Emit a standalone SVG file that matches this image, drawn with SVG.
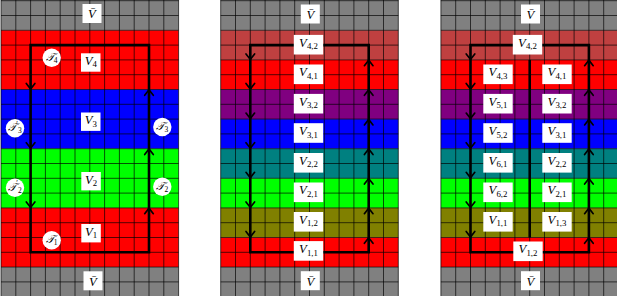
<svg xmlns="http://www.w3.org/2000/svg" width="617" height="296" viewBox="0 0 617 296">
<defs>
<style>
.g{fill:#808080}.r{fill:#ff0000}.b{fill:#0000ff}.gr{fill:#00ff00}.dr{fill:#bf4040}.pu{fill:#800080}.te{fill:#008080}.ol{fill:#808000}
.grid{fill:none;stroke:#000;stroke-width:0.8;stroke-opacity:0.85}
.ln{fill:none;stroke:#000;stroke-width:2.6;stroke-linejoin:miter}
.ar{fill:none;stroke:#000;stroke-width:1.7;stroke-linecap:round;stroke-linejoin:miter}
.box{fill:#fff}
.t{font-family:"Liberation Serif","DejaVu Serif",serif;font-style:italic;font-size:12.7px;text-anchor:middle;fill:#000}
.s{font-style:normal;font-size:8.8px}
.c{font-size:11px}
.cs{font-style:normal;font-size:7.5px}
</style>
<path id="gridp" d="M0,-0.7V295.3M14.8,-0.7V295.3M29.6,-0.7V295.3M44.4,-0.7V295.3M59.2,-0.7V295.3M74,-0.7V295.3M88.8,-0.7V295.3M103.6,-0.7V295.3M118.4,-0.7V295.3M133.2,-0.7V295.3M148,-0.7V295.3M162.8,-0.7V295.3M177.6,-0.7V295.3M0,0H177.6M0,14.8H177.6M0,29.6H177.6M0,44.4H177.6M0,59.2H177.6M0,74H177.6M0,88.8H177.6M0,103.6H177.6M0,118.4H177.6M0,133.2H177.6M0,148H177.6M0,162.8H177.6M0,177.6H177.6M0,192.4H177.6M0,207.2H177.6M0,222H177.6M0,236.8H177.6M0,251.6H177.6M0,266.4H177.6M0,281.2H177.6"/>
<path id="ad" d="M-4.3,-5.5L0,0L4.3,-5.5"/>
<path id="au" d="M-4.3,5.5L0,0L4.3,5.5"/>
</defs>
<rect width="617" height="296" fill="#fff"/>

<g id="panel1-grid">
<rect class="g" x="1" y="0" width="177.6" height="30.3"/>
<rect class="r" x="1" y="30.3" width="177.6" height="59.2"/>
<rect class="b" x="1" y="89.5" width="177.6" height="59.2"/>
<rect class="gr" x="1" y="148.7" width="177.6" height="59.2"/>
<rect class="r" x="1" y="207.9" width="177.6" height="59.2"/>
<rect class="g" x="1" y="267.1" width="177.6" height="28.9"/>
<use href="#gridp" class="grid" x="1" y="0.7"/>
</g>
<g id="panel2-grid">
<rect class="g" x="220.7" y="0" width="177.6" height="30.3"/>
<rect class="dr" x="220.7" y="30.3" width="177.6" height="29.6"/>
<rect class="r" x="220.7" y="59.9" width="177.6" height="29.6"/>
<rect class="pu" x="220.7" y="89.5" width="177.6" height="29.6"/>
<rect class="b" x="220.7" y="119.1" width="177.6" height="29.6"/>
<rect class="te" x="220.7" y="148.7" width="177.6" height="29.6"/>
<rect class="gr" x="220.7" y="178.3" width="177.6" height="29.6"/>
<rect class="ol" x="220.7" y="207.9" width="177.6" height="29.6"/>
<rect class="r" x="220.7" y="237.5" width="177.6" height="29.6"/>
<rect class="g" x="220.7" y="267.1" width="177.6" height="28.9"/>
<use href="#gridp" class="grid" x="220.7" y="0.7"/>
</g>
<g id="panel3-grid">
<rect class="g" x="440.9" y="0" width="177.6" height="30.3"/>
<rect class="dr" x="440.9" y="30.3" width="177.6" height="29.6"/>
<rect class="r" x="440.9" y="59.9" width="177.6" height="29.6"/>
<rect class="pu" x="440.9" y="89.5" width="177.6" height="29.6"/>
<rect class="b" x="440.9" y="119.1" width="177.6" height="29.6"/>
<rect class="te" x="440.9" y="148.7" width="177.6" height="29.6"/>
<rect class="gr" x="440.9" y="178.3" width="177.6" height="29.6"/>
<rect class="ol" x="440.9" y="207.9" width="177.6" height="29.6"/>
<rect class="r" x="440.9" y="237.5" width="177.6" height="29.6"/>
<rect class="g" x="440.9" y="267.1" width="177.6" height="28.9"/>
<use href="#gridp" class="grid" x="440.9" y="0.7"/>
</g>

<g id="connectors">
<path class="ln" d="M30.6,45.1H149V252.3H30.6Z"/>
<use href="#ad" class="ar" x="30.6" y="89"/>
<use href="#ad" class="ar" x="30.6" y="148.2"/>
<use href="#ad" class="ar" x="30.6" y="207.4"/>
<use href="#au" class="ar" x="149" y="89.8"/>
<use href="#au" class="ar" x="149" y="149"/>
<use href="#au" class="ar" x="149" y="208.2"/>

<path class="ln" d="M250.3,45.1H368.7V252.3H250.3Z"/>
<use href="#ad" class="ar" x="250.3" y="59.4"/>
<use href="#ad" class="ar" x="250.3" y="89"/>
<use href="#ad" class="ar" x="250.3" y="118.6"/>
<use href="#ad" class="ar" x="250.3" y="148.2"/>
<use href="#ad" class="ar" x="250.3" y="177.8"/>
<use href="#ad" class="ar" x="250.3" y="207.4"/>
<use href="#ad" class="ar" x="250.3" y="237"/>
<use href="#au" class="ar" x="368.7" y="60.2"/>
<use href="#au" class="ar" x="368.7" y="89.8"/>
<use href="#au" class="ar" x="368.7" y="119.4"/>
<use href="#au" class="ar" x="368.7" y="149"/>
<use href="#au" class="ar" x="368.7" y="178.6"/>
<use href="#au" class="ar" x="368.7" y="208.2"/>
<use href="#au" class="ar" x="368.7" y="237.8"/>

<path class="ln" d="M470.5,45.1H588.9V252.3H470.5Z"/>
<path class="ln" d="M529.7,59.9V237.5"/>
<use href="#ad" class="ar" x="470.5" y="59.4"/>
<use href="#ad" class="ar" x="470.5" y="89"/>
<use href="#ad" class="ar" x="470.5" y="118.6"/>
<use href="#ad" class="ar" x="470.5" y="148.2"/>
<use href="#ad" class="ar" x="470.5" y="177.8"/>
<use href="#ad" class="ar" x="470.5" y="207.4"/>
<use href="#ad" class="ar" x="470.5" y="237"/>
<use href="#au" class="ar" x="588.9" y="60.2"/>
<use href="#au" class="ar" x="588.9" y="89.8"/>
<use href="#au" class="ar" x="588.9" y="119.4"/>
<use href="#au" class="ar" x="588.9" y="149"/>
<use href="#au" class="ar" x="588.9" y="178.6"/>
<use href="#au" class="ar" x="588.9" y="208.2"/>
<use href="#au" class="ar" x="588.9" y="237.8"/>
</g>

<!-- panel 1 labels -->
<g id="p1-vbar-top"><rect class="box" x="82.5" y="4" width="19" height="19"/><text class="t" x="92" y="18.3">V&#x304;</text></g>
<g id="p1-V4"><rect class="box" x="81" y="53.3" width="19.5" height="18.4"/><text class="t" x="90.8" y="64.8">V<tspan class="s" dy="2.6">4</tspan></text></g>
<g id="p1-V3"><rect class="box" x="81" y="112.5" width="19.5" height="18.4"/><text class="t" x="90.8" y="124">V<tspan class="s" dy="2.6">3</tspan></text></g>
<g id="p1-V2"><rect class="box" x="81.3" y="172" width="19.5" height="18.4"/><text class="t" x="91.1" y="183.5">V<tspan class="s" dy="2.6">2</tspan></text></g>
<g id="p1-V1"><rect class="box" x="81.3" y="224" width="19.5" height="18.4"/><text class="t" x="91.1" y="235.5">V<tspan class="s" dy="2.6">1</tspan></text></g>
<g id="p1-vbar-bot"><rect class="box" x="83.5" y="271.3" width="19" height="19"/><text class="t" x="93" y="285.6">V&#x304;</text></g>
<g id="p1-T4"><circle class="box" cx="51.7" cy="57.8" r="9.2"/><text class="t c" x="51.7" y="60.6">𝒯<tspan class="cs" dy="2.2">4</tspan></text></g>
<g id="p1-T3p"><circle class="box" cx="15" cy="128.3" r="9.2"/><text class="t c" x="15" y="131.1">𝒯<tspan class="cs" dy="-4.5">′</tspan><tspan class="cs" dy="6.7">3</tspan></text></g>
<g id="p1-T3"><circle class="box" cx="162.3" cy="127" r="9.2"/><text class="t c" x="162.3" y="129.8">𝒯<tspan class="cs" dy="2.2">3</tspan></text></g>
<g id="p1-T2p"><circle class="box" cx="15" cy="187.7" r="9.2"/><text class="t c" x="15" y="190.5">𝒯<tspan class="cs" dy="-4.5">′</tspan><tspan class="cs" dy="6.7">2</tspan></text></g>
<g id="p1-T2"><circle class="box" cx="162.3" cy="186.7" r="9.2"/><text class="t c" x="162.3" y="189.5">𝒯<tspan class="cs" dy="2.2">2</tspan></text></g>
<g id="p1-T1"><circle class="box" cx="51.7" cy="240.3" r="9.2"/><text class="t c" x="51.7" y="243.1">𝒯<tspan class="cs" dy="2.2">1</tspan></text></g>

<!-- panel 2 labels -->
<g id="p2-vbar-top"><rect class="box" x="300.8" y="4.5" width="19" height="19"/><text class="t" x="310.3" y="18.8">V&#x304;</text></g>
<g id="p2-V42"><rect class="box" x="293.8" y="34.9" width="29.4" height="19.6"/><text class="t" x="308.5" y="46.7">V<tspan class="s" dy="2.6">4,2</tspan></text></g>
<g id="p2-V41"><rect class="box" x="293.8" y="64.5" width="29.4" height="19.6"/><text class="t" x="308.5" y="76.3">V<tspan class="s" dy="2.6">4,1</tspan></text></g>
<g id="p2-V32"><rect class="box" x="293.8" y="93.9" width="29.4" height="19.6"/><text class="t" x="308.5" y="105.7">V<tspan class="s" dy="2.6">3,2</tspan></text></g>
<g id="p2-V31"><rect class="box" x="293.8" y="123.2" width="29.4" height="19.6"/><text class="t" x="308.5" y="135">V<tspan class="s" dy="2.6">3,1</tspan></text></g>
<g id="p2-V22"><rect class="box" x="293.8" y="153" width="29.4" height="19.6"/><text class="t" x="308.5" y="164.8">V<tspan class="s" dy="2.6">2,2</tspan></text></g>
<g id="p2-V21"><rect class="box" x="293.8" y="182.5" width="29.4" height="19.6"/><text class="t" x="308.5" y="194.3">V<tspan class="s" dy="2.6">2,1</tspan></text></g>
<g id="p2-V12"><rect class="box" x="293.8" y="212" width="29.4" height="19.6"/><text class="t" x="308.5" y="223.8">V<tspan class="s" dy="2.6">1,2</tspan></text></g>
<g id="p2-V11"><rect class="box" x="293.8" y="241.1" width="29.4" height="19.6"/><text class="t" x="308.5" y="252.9">V<tspan class="s" dy="2.6">1,1</tspan></text></g>
<g id="p2-vbar-bot"><rect class="box" x="300.8" y="271.2" width="19" height="19"/><text class="t" x="310.3" y="285.5">V&#x304;</text></g>

<!-- panel 3 labels -->
<g id="p3-vbar-top"><rect class="box" x="521" y="4.5" width="19" height="19"/><text class="t" x="530.5" y="18.8">V&#x304;</text></g>
<g id="p3-V42"><rect class="box" x="512.8" y="34.9" width="29.4" height="19.6"/><text class="t" x="527.5" y="46.7">V<tspan class="s" dy="2.6">4,2</tspan></text></g>
<g id="p3-V43"><rect class="box" x="483.3" y="64.5" width="29.4" height="19.6"/><text class="t" x="498" y="76.3">V<tspan class="s" dy="2.6">4,3</tspan></text></g>
<g id="p3-V41"><rect class="box" x="542.3" y="64.5" width="29.4" height="19.6"/><text class="t" x="557" y="76.3">V<tspan class="s" dy="2.6">4,1</tspan></text></g>
<g id="p3-V51"><rect class="box" x="483.3" y="93.9" width="29.4" height="19.6"/><text class="t" x="498" y="105.7">V<tspan class="s" dy="2.6">5,1</tspan></text></g>
<g id="p3-V32"><rect class="box" x="542.3" y="93.9" width="29.4" height="19.6"/><text class="t" x="557" y="105.7">V<tspan class="s" dy="2.6">3,2</tspan></text></g>
<g id="p3-V52"><rect class="box" x="483.3" y="123.2" width="29.4" height="19.6"/><text class="t" x="498" y="135">V<tspan class="s" dy="2.6">5,2</tspan></text></g>
<g id="p3-V31"><rect class="box" x="542.3" y="123.2" width="29.4" height="19.6"/><text class="t" x="557" y="135">V<tspan class="s" dy="2.6">3,1</tspan></text></g>
<g id="p3-V61"><rect class="box" x="483.3" y="153" width="29.4" height="19.6"/><text class="t" x="498" y="164.8">V<tspan class="s" dy="2.6">6,1</tspan></text></g>
<g id="p3-V22"><rect class="box" x="542.3" y="153" width="29.4" height="19.6"/><text class="t" x="557" y="164.8">V<tspan class="s" dy="2.6">2,2</tspan></text></g>
<g id="p3-V62"><rect class="box" x="483.3" y="182.5" width="29.4" height="19.6"/><text class="t" x="498" y="194.3">V<tspan class="s" dy="2.6">6,2</tspan></text></g>
<g id="p3-V21"><rect class="box" x="542.3" y="182.5" width="29.4" height="19.6"/><text class="t" x="557" y="194.3">V<tspan class="s" dy="2.6">2,1</tspan></text></g>
<g id="p3-V11"><rect class="box" x="483.3" y="212" width="29.4" height="19.6"/><text class="t" x="498" y="223.8">V<tspan class="s" dy="2.6">1,1</tspan></text></g>
<g id="p3-V13"><rect class="box" x="542.3" y="212" width="29.4" height="19.6"/><text class="t" x="557" y="223.8">V<tspan class="s" dy="2.6">1,3</tspan></text></g>
<g id="p3-V12"><rect class="box" x="513.3" y="241.5" width="29.4" height="19.6"/><text class="t" x="528" y="253.3">V<tspan class="s" dy="2.6">1,2</tspan></text></g>
<g id="p3-vbar-bot"><rect class="box" x="521" y="271.2" width="19" height="19"/><text class="t" x="530.5" y="285.5">V&#x304;</text></g>
</svg>
